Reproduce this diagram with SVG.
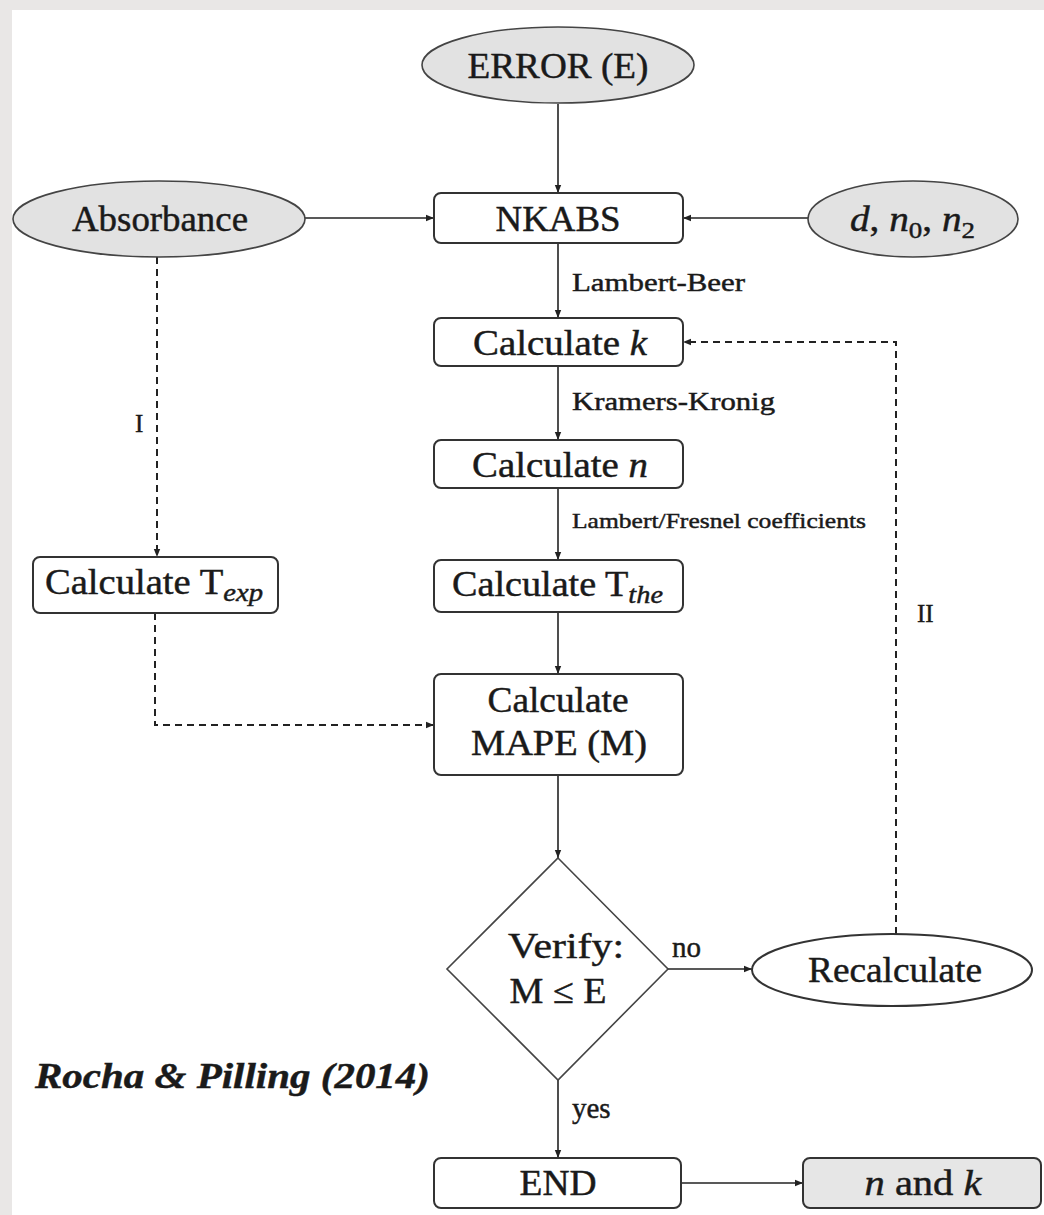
<svg xmlns="http://www.w3.org/2000/svg" width="1044" height="1215" viewBox="0 0 1044 1215">
<defs>
<marker id="arr" viewBox="0 0 10 10" refX="10" refY="5" markerWidth="8" markerHeight="8" markerUnits="userSpaceOnUse" orient="auto">
<path d="M0,1 L10,5 L0,9 Z" fill="#222"/>
</marker>
<style>
.t{font-family:"Liberation Serif","Times New Roman",serif;fill:#1a1a1a;stroke:#1a1a1a;stroke-width:0.45}
.n{font-size:35px}
.l{font-size:25px}
.box{fill:#fff;stroke:#333;stroke-width:2}
.gray{fill:#e2e2e2;stroke:#444;stroke-width:1.6}
.c{fill:none;stroke:#222;stroke-width:1.6}
.d{fill:none;stroke:#222;stroke-width:2;stroke-dasharray:7 5}
.i{font-style:italic}
</style>
</defs>
<rect width="1044" height="1215" fill="#e9e7e6"/>
<rect x="12" y="10" width="1032" height="1205" fill="#fff"/>

<g id="connectors">
<line class="c" x1="558" y1="104" x2="558" y2="193" marker-end="url(#arr)"/>
<line class="c" x1="305" y1="218" x2="434" y2="218" stroke-width="2.5" marker-end="url(#arr)"/>
<line class="c" x1="808" y1="218" x2="683" y2="218" stroke-width="2.5" marker-end="url(#arr)"/>
<line class="c" x1="558" y1="243" x2="558" y2="318" marker-end="url(#arr)"/>
<line class="c" x1="558" y1="366" x2="558" y2="440" marker-end="url(#arr)"/>
<line class="c" x1="558" y1="488" x2="558" y2="560" marker-end="url(#arr)"/>
<line class="c" x1="558" y1="612" x2="558" y2="674" marker-end="url(#arr)"/>
<line class="c" x1="558" y1="775" x2="558" y2="858" marker-end="url(#arr)"/>
<line class="c" x1="558" y1="1080" x2="558" y2="1158" marker-end="url(#arr)"/>
<line class="c" x1="668" y1="969" x2="752" y2="969" stroke-width="2.2" marker-end="url(#arr)"/>
<line class="c" x1="681" y1="1183" x2="803" y2="1183" stroke-width="2.5" marker-end="url(#arr)"/>
<path class="d" d="M157,257 V557" marker-end="url(#arr)"/>
<path class="d" d="M155,613 V725 H434" marker-end="url(#arr)"/>
<path class="d" d="M896,934 V342 H683" marker-end="url(#arr)"/>
<text class="t l" x="572" y="291" textLength="173" lengthAdjust="spacingAndGlyphs">Lambert-Beer</text>
<text class="t l" x="572" y="410" textLength="203" lengthAdjust="spacingAndGlyphs">Kramers-Kronig</text>
<text class="t" x="572" y="528" font-size="22" textLength="294" lengthAdjust="spacingAndGlyphs">Lambert/Fresnel coefficients</text>
<text class="t" x="135" y="432" font-size="25">I</text>
<text class="t" x="917" y="622" font-size="25">II</text>
<text class="t" x="672" y="957" font-size="29">no</text>
<text class="t" x="572" y="1118" font-size="29">yes</text>
</g>

<g id="error">
<ellipse class="gray" cx="558" cy="65" rx="136" ry="38"/>
<text class="t" x="558" y="78" font-size="36" text-anchor="middle" textLength="181" lengthAdjust="spacingAndGlyphs">ERROR (E)</text>
</g>
<g id="absorbance">
<ellipse class="gray" cx="159" cy="219" rx="146" ry="38"/>
<text class="t n" x="160" y="231" text-anchor="middle" textLength="176" lengthAdjust="spacingAndGlyphs">Absorbance</text>
</g>
<g id="nkabs">
<rect class="box" x="434" y="193" width="249" height="50" rx="7"/>
<text class="t n" x="558" y="231" text-anchor="middle" textLength="125" lengthAdjust="spacingAndGlyphs">NKABS</text>
</g>
<g id="params">
<ellipse class="gray" cx="913" cy="219" rx="105" ry="38"/>
<text class="t n" x="850" y="231" textLength="125" lengthAdjust="spacingAndGlyphs"><tspan class="i">d</tspan>, <tspan class="i">n</tspan><tspan font-size="24" dy="7">0</tspan><tspan dy="-7">, </tspan><tspan class="i">n</tspan><tspan font-size="24" dy="7">2</tspan></text>
</g>
<g id="calc-k">
<rect class="box" x="434" y="318" width="249" height="48" rx="7"/>
<text class="t n" x="560" y="355" text-anchor="middle" textLength="174" lengthAdjust="spacingAndGlyphs">Calculate <tspan class="i">k</tspan></text>
</g>
<g id="calc-n">
<rect class="box" x="434" y="440" width="249" height="48" rx="7"/>
<text class="t n" x="560" y="477" text-anchor="middle" textLength="176" lengthAdjust="spacingAndGlyphs">Calculate <tspan class="i">n</tspan></text>
</g>
<g id="calc-texp">
<rect class="box" x="33" y="557" width="245" height="56" rx="7"/>
<text class="t n" x="45" y="594" textLength="218" lengthAdjust="spacingAndGlyphs">Calculate T<tspan class="i" font-size="26" dy="7">exp</tspan></text>
</g>
<g id="calc-tthe">
<rect class="box" x="434" y="560" width="249" height="52" rx="7"/>
<text class="t n" x="452" y="596" textLength="211" lengthAdjust="spacingAndGlyphs">Calculate T<tspan class="i" font-size="26" dy="7">the</tspan></text>
</g>
<g id="mape">
<rect class="box" x="434" y="674" width="249" height="101" rx="7"/>
<text class="t n" x="558" y="712" text-anchor="middle" textLength="141" lengthAdjust="spacingAndGlyphs">Calculate</text>
<text class="t n" x="559" y="755" text-anchor="middle" textLength="176" lengthAdjust="spacingAndGlyphs">MAPE (M)</text>
</g>
<g id="verify">
<polygon points="558,858 668,969 558,1080 447,969" fill="#fff" stroke="#444" stroke-width="1.6"/>
<text class="t n" x="566" y="958" text-anchor="middle" textLength="116" lengthAdjust="spacingAndGlyphs">Verify:</text>
<text class="t n" x="558" y="1003" text-anchor="middle" textLength="97" lengthAdjust="spacingAndGlyphs">M ≤ E</text>
</g>
<g id="recalculate">
<ellipse cx="892" cy="970" rx="140" ry="36" fill="#fff" stroke="#333" stroke-width="2"/>
<text class="t n" x="895" y="982" text-anchor="middle" textLength="174" lengthAdjust="spacingAndGlyphs">Recalculate</text>
</g>
<g id="end">
<rect class="box" x="434" y="1158" width="247" height="50" rx="7"/>
<text class="t n" x="558" y="1195" text-anchor="middle" textLength="77" lengthAdjust="spacingAndGlyphs">END</text>
</g>
<g id="n-and-k">
<rect x="803" y="1158" width="238" height="50" rx="7" fill="#e6e6e6" stroke="#333" stroke-width="2"/>
<text class="t n" x="923" y="1195" text-anchor="middle" textLength="117" lengthAdjust="spacingAndGlyphs"><tspan class="i">n</tspan> and <tspan class="i">k</tspan></text>
</g>
<text class="t" x="35" y="1088" font-size="36" font-weight="bold" font-style="italic" fill="#333" stroke="none" textLength="395" lengthAdjust="spacingAndGlyphs">Rocha &amp; Pilling (2014)</text>
</svg>
